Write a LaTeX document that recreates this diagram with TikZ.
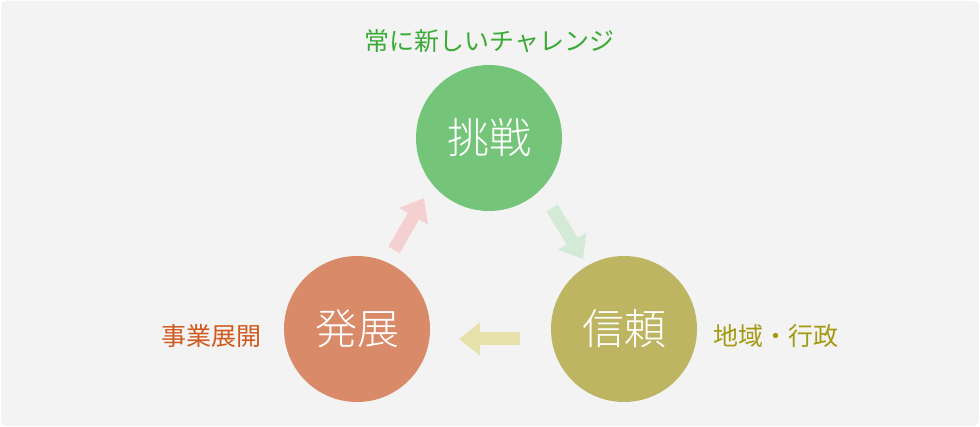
\documentclass[tikz,border=0pt]{standalone}
\usepackage{fontspec}
\setmainfont{Noto Sans CJK JP}
\newfontfamily\lightcjk{Noto Sans CJK JP Light}
\usetikzlibrary{arrows.meta,calc}
\definecolor{bgc}{HTML}{F3F3F3}
\definecolor{cgreen}{HTML}{74C57A}
\definecolor{colive}{HTML}{BDB562}
\definecolor{csalmon}{HTML}{D98A68}
\definecolor{tgreen}{HTML}{3AAA35}
\definecolor{torange}{HTML}{D05A1E}
\definecolor{tolive}{HTML}{A39A12}
\definecolor{agreen}{HTML}{D3EAD6}
\definecolor{ayellow}{HTML}{E6E1AA}
\definecolor{apink}{HTML}{F4D1D0}
\tikzset{
  circ/.style={circle, minimum size=146pt, inner sep=0pt, text=white, font=\lightcjk\fontsize{42}{42}\selectfont},
  lab/.style={inner sep=0pt, font=\fontsize{25}{25}\selectfont},
  blockarrow/.style={line width=13pt, -{Triangle[length=21pt,width=32pt]}, shorten >=0pt}
}
\begin{document}
\begin{tikzpicture}[x=1pt,y=-1pt]
\useasboundingbox (0,0) rectangle (980,427);
\fill[white] (0,0) rectangle (980,427);
\fill[bgc, rounded corners=5pt] (1,1) rectangle (979,426);
\node[circ, fill=cgreen] (top) at (489,138) {挑戦};
\node[circ, fill=colive] (right) at (624,329) {信頼};
\node[circ, fill=csalmon] (left) at (357,329) {発展};
\node[lab, text=tgreen] (ltop) at (489.5,41) {常に新しいチャレンジ};
\node[lab, text=torange] (lleft) at (211.5,336) {事業展開};
\node[lab, text=tolive] (lright) at (776,336) {地域・行政};
\coordinate (a1s) at (552,208);
\coordinate (a1e) at (583,259);
\coordinate (a2s) at (520,339);
\coordinate (a2e) at (459,339);
\coordinate (a3s) at (394,250);
\coordinate (a3e) at (424,198);
\draw[blockarrow, agreen] (a1s) -- (a1e);
\draw[blockarrow, ayellow] (a2s) -- (a2e);
\draw[blockarrow, apink] (a3s) -- (a3e);
\end{tikzpicture}
\end{document}
